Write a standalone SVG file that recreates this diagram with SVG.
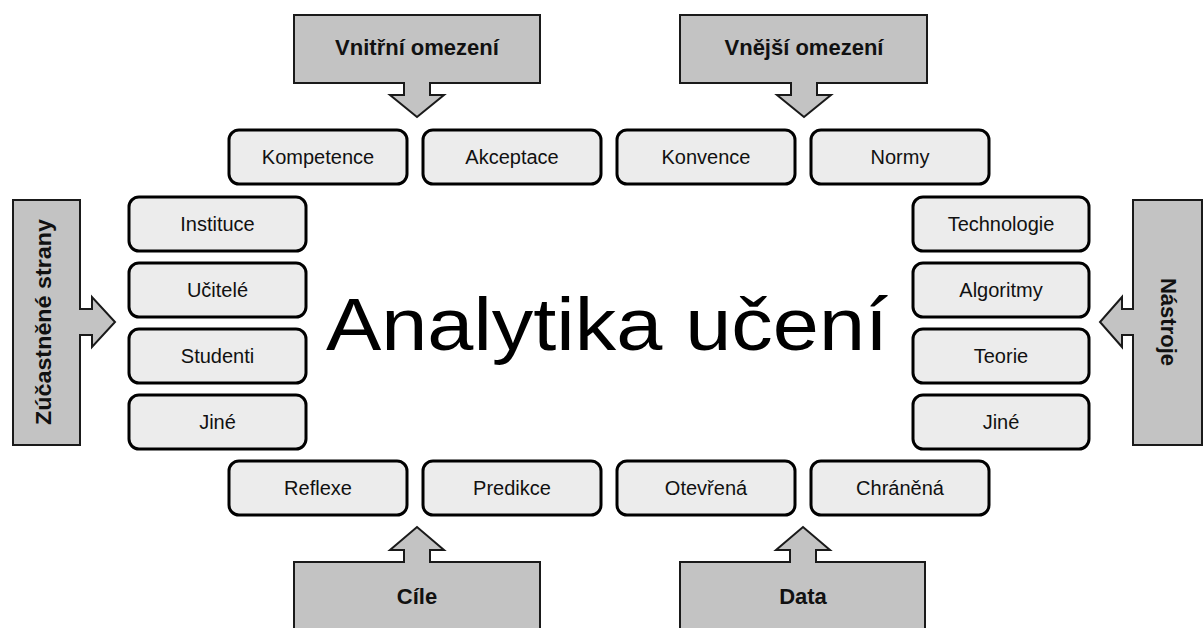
<svg xmlns="http://www.w3.org/2000/svg" width="1203" height="628" viewBox="0 0 1203 628">
<style>
.box{fill:#ececec;stroke:#000;stroke-width:3}
.call{fill:#c3c3c3;stroke:#1a1a1a;stroke-width:2;stroke-linejoin:miter}
.t{font-family:"Liberation Sans",Arial,sans-serif;font-size:20px;fill:#111;text-anchor:middle}
.ct{font-family:"Liberation Sans",Arial,sans-serif;font-size:22px;font-weight:bold;fill:#111;text-anchor:middle}
.title{font-family:"Liberation Sans",Arial,sans-serif;font-size:74px;fill:#000}
</style>
<rect width="1203" height="628" fill="#fff"/>
<g id="callout-vnitrni"><path class="call" d="M294,15H540V83H430V95H444L417,117L390,95H404V83H294Z"/><text class="ct" x="417" y="55">Vnitřní omezení</text></g>
<g id="callout-vnejsi"><path class="call" d="M680,15H927V83H817V95H831L804,117L777,95H791V83H680Z"/><text class="ct" x="804" y="55">Vnější omezení</text></g>
<g id="callout-cile"><path class="call" d="M294,562H404V550H390L417,527L444,550H430V562H540V640H294Z"/><text class="ct" x="417" y="604">Cíle</text></g>
<g id="callout-data"><path class="call" d="M680,562H790V550H776L803,527L830,550H816V562H925V640H680Z"/><text class="ct" x="803" y="604">Data</text></g>
<g id="callout-zucastnene"><path class="call" d="M13,200H80V309H92V297L115,322L92,347V335H80V445H13Z"/><text class="ct" transform="translate(51,322) rotate(-90)" textLength="206" lengthAdjust="spacingAndGlyphs" x="0" y="0" style="text-anchor:start" dx="-103">Zúčastněné strany</text></g>
<g id="callout-nastroje"><path class="call" d="M1133,200H1202V445H1133V335H1122V347L1100,322L1122,297V309H1133Z"/><text class="ct" transform="translate(1161,322) rotate(90)">Nástroje</text></g>
<g id="connectors"></g>
<g id="n-kompetence"><rect class="box" x="229" y="130" width="178" height="54" rx="10"/><text class="t" x="318" y="164">Kompetence</text></g>
<g id="n-akceptace"><rect class="box" x="423" y="130" width="178" height="54" rx="10"/><text class="t" x="512" y="164">Akceptace</text></g>
<g id="n-konvence"><rect class="box" x="617" y="130" width="178" height="54" rx="10"/><text class="t" x="706" y="164">Konvence</text></g>
<g id="n-normy"><rect class="box" x="811" y="130" width="178" height="54" rx="10"/><text class="t" x="900" y="164">Normy</text></g>
<g id="n-reflexe"><rect class="box" x="229" y="461" width="178" height="54" rx="10"/><text class="t" x="318" y="495">Reflexe</text></g>
<g id="n-predikce"><rect class="box" x="423" y="461" width="178" height="54" rx="10"/><text class="t" x="512" y="495">Predikce</text></g>
<g id="n-otevrena"><rect class="box" x="617" y="461" width="178" height="54" rx="10"/><text class="t" x="706" y="495">Otevřená</text></g>
<g id="n-chranena"><rect class="box" x="811" y="461" width="178" height="54" rx="10"/><text class="t" x="900" y="495">Chráněná</text></g>
<g id="n-instituce"><rect class="box" x="129" y="197" width="177" height="54" rx="10"/><text class="t" x="217.5" y="231">Instituce</text></g>
<g id="n-ucitele"><rect class="box" x="129" y="263" width="177" height="54" rx="10"/><text class="t" x="217.5" y="297">Učitelé</text></g>
<g id="n-studenti"><rect class="box" x="129" y="329" width="177" height="54" rx="10"/><text class="t" x="217.5" y="363">Studenti</text></g>
<g id="n-jine-l"><rect class="box" x="129" y="395" width="177" height="54" rx="10"/><text class="t" x="217.5" y="429">Jiné</text></g>
<g id="n-technologie"><rect class="box" x="913" y="197" width="176" height="54" rx="10"/><text class="t" x="1001" y="231">Technologie</text></g>
<g id="n-algoritmy"><rect class="box" x="913" y="263" width="176" height="54" rx="10"/><text class="t" x="1001" y="297">Algoritmy</text></g>
<g id="n-teorie"><rect class="box" x="913" y="329" width="176" height="54" rx="10"/><text class="t" x="1001" y="363">Teorie</text></g>
<g id="n-jine-r"><rect class="box" x="913" y="395" width="176" height="54" rx="10"/><text class="t" x="1001" y="429">Jiné</text></g>
<g id="center"><text class="title" x="326" y="350" textLength="562" lengthAdjust="spacingAndGlyphs">Analytika učení</text></g>
</svg>
